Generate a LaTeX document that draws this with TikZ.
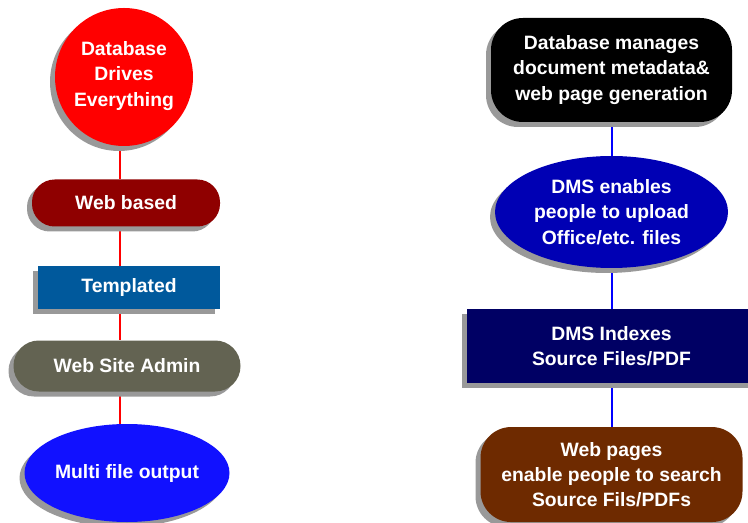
\documentclass[tikz,border=0pt]{standalone}
\usepackage{fontspec}
\setmainfont{Liberation Sans}
\usepackage{tikz}
\usetikzlibrary{shapes,shadows,backgrounds}
\usetikzlibrary{positioning}
\definecolor{dbred}{RGB}{255,0,0}
\definecolor{webred}{RGB}{143,0,0}
\definecolor{tplblue}{RGB}{0,89,156}
\definecolor{admingray}{RGB}{99,99,82}
\definecolor{multiblue}{RGB}{17,17,255}
\definecolor{dmsblue}{RGB}{0,0,180}
\definecolor{dmsnavy}{RGB}{0,0,100}
\definecolor{webbrown}{RGB}{110,42,0}
\tikzset{
    base/.style={
           draw=none,
           text=white,
           font=\bfseries\fontsize{14.5}{19}\selectfont,
           align=center,
           inner sep=0pt,
           drop shadow={shadow xshift=-3.75pt, shadow yshift=-3.75pt,
                        fill=black!40, opacity=1},
           },
    pill/.style={
           base,
           rectangle,
           rounded corners=#1,
           },
    flatbox/.style={
           base,
           rectangle,
           },
    oval/.style={
           base,
           ellipse,
           },
    disc/.style={
           base,
           circle,
           },
    redpil/.style={
           -,
           draw=dbred,
           line width=1.6pt,},
    bluepil/.style={
           -,
           draw=blue,
           line width=1.6pt,}
}
\begin{document}
\begin{tikzpicture}[x=0.75pt,y=-0.75pt]
\useasboundingbox (0,0) rectangle (748,523);
% LEFT COLUMN
% Position of Database drives everything (DRIVE)
\node[disc, fill=dbred, minimum size=103.5pt] (DRIVE) at (124,77)
{Database\\Drives\\Everything\\[-14pt]};
% Position of Web based (WEB)
\node[pill=17pt, fill=webred,
minimum width=141pt, minimum height=35.25pt,
below of = DRIVE,
node distance = 94.5pt,
xshift = 1.5pt] (WEB)
{Web based};
% Position of Templated (TPL)
\node[flatbox, fill=tplblue,
minimum width=136.5pt, minimum height=32.25pt,
below of = WEB,
node distance = 63.75pt,
xshift = 2.25pt] (TPL)
{Templated};
% Position of Web site admin (ADMIN)
\node[pill=19pt, fill=admingray,
minimum width=170.25pt, minimum height=38.25pt,
below of = TPL,
node distance = 58.5pt,
xshift = -1.5pt] (ADMIN)
{Web Site Admin};
% Position of Multi file output (MULTI)
\node[oval, fill=multiblue,
minimum width=153.75pt, minimum height=73.5pt,
below of = ADMIN,
node distance = 80.25pt] (MULTI)
{Multi file output};
% RIGHT COLUMN
% Position of Database manages (MANAGE)
\node[pill=24pt, fill=black,
minimum width=180.75pt, minimum height=78pt] (MANAGE) at (611.5,70)
{Database manages\\document metadata\&\\web page generation};
% Position of DMS enables (UPLOAD)
\node[oval, fill=dmsblue,
minimum width=174.75pt, minimum height=84pt,
below of = MANAGE,
node distance = 106.5pt] (UPLOAD)
{DMS enables\\people to upload\\Office/etc. files};
% Position of DMS indexes (INDEX)
\node[flatbox, fill=dmsnavy,
minimum width=217.5pt, minimum height=55.5pt,
below of = UPLOAD,
node distance = 100.5pt] (INDEX)
{DMS Indexes\\Source Files/PDF};
% Position of Web pages (SEARCH)
\node[pill=23pt, fill=webbrown,
minimum width=196.5pt, minimum height=71.25pt,
below of = INDEX,
node distance = 96.4pt] (SEARCH)
{Web pages\\enable people to search\\Source Fils/PDFs};
% Draw lines on graph
\coordinate (LEFTX) at (120,0);
\coordinate (RIGHTX) at (612,0);
\begin{scope}[on background layer]
\path (DRIVE.south -| LEFTX) edge[redpil] (WEB.north -| LEFTX);
\path (WEB.south -| LEFTX) edge[redpil] (TPL.north -| LEFTX);
\path (TPL.south -| LEFTX) edge[redpil] (ADMIN.north -| LEFTX);
\path (ADMIN.south -| LEFTX) edge[redpil] (MULTI.north -| LEFTX);
\path (MANAGE.south -| RIGHTX) edge[bluepil] (UPLOAD.north -| RIGHTX);
\path (UPLOAD.south -| RIGHTX) edge[bluepil] (INDEX.north -| RIGHTX);
\path (INDEX.south -| RIGHTX) edge[bluepil] (SEARCH.north -| RIGHTX);
\end{scope}
\end{tikzpicture}
\end{document}
